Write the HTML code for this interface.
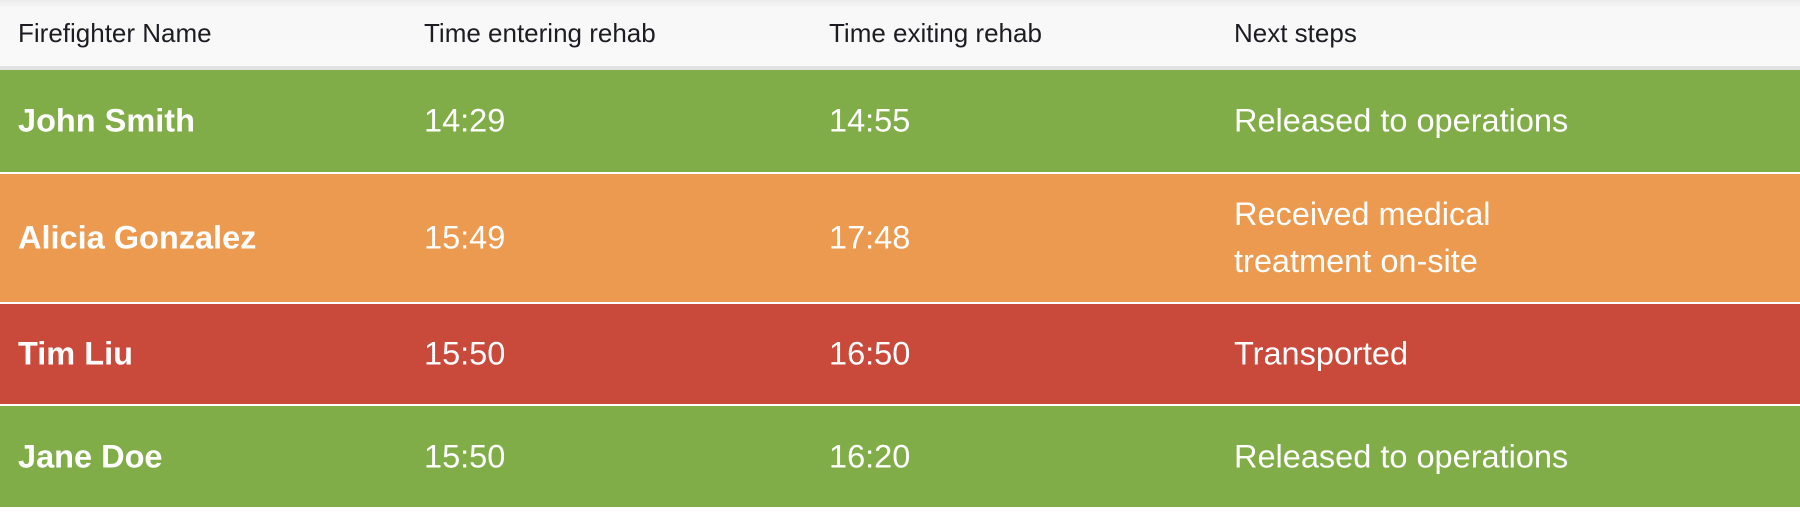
<!DOCTYPE html>
<html><head><meta charset="utf-8"><style>
body{margin:0;width:1800px;height:514px;background:#fff;font-family:"Liberation Sans",Arial,sans-serif;overflow:hidden;position:relative}
.hdr{position:absolute;left:0;top:0;width:1800px;height:66px;background:linear-gradient(#ececec,#f8f8f8 8px,#f9f9f9);border-bottom:4px solid #e2e2e2}
.hdr span{position:absolute;top:18px;font-size:26px;color:#1c1c22}
.row{position:absolute;left:0;width:1800px;color:#fff;font-size:32.5px}
.row span{position:absolute;top:50%;transform:translateY(-50%);line-height:47px}
.row .n{font-weight:bold}
.c1{left:18px}.c2{left:424px}.c3{left:829px}.c4{left:1234px}
.g{background:#80ad48}.o{background:#ec9a50}.r{background:#c9493b}
</style></head><body>
<div class="hdr">
<span class="c1">Firefighter Name</span>
<span class="c2">Time entering rehab</span>
<span class="c3">Time exiting rehab</span>
<span class="c4">Next steps</span>
</div>
<div class="row g" style="top:70px;height:102px">
<span class="c1 n">John Smith</span>
<span class="c2">14:29</span>
<span class="c3">14:55</span>
<span class="c4">Released to operations</span>
</div>
<div class="row o" style="top:174px;height:128px">
<span class="c1 n">Alicia Gonzalez</span>
<span class="c2">15:49</span>
<span class="c3">17:48</span>
<span class="c4">Received medical<br>treatment on-site</span>
</div>
<div class="row r" style="top:304px;height:100px">
<span class="c1 n">Tim Liu</span>
<span class="c2">15:50</span>
<span class="c3">16:50</span>
<span class="c4">Transported</span>
</div>
<div class="row g" style="top:406px;height:101px">
<span class="c1 n">Jane Doe</span>
<span class="c2">15:50</span>
<span class="c3">16:20</span>
<span class="c4">Released to operations</span>
</div>
</body></html>
